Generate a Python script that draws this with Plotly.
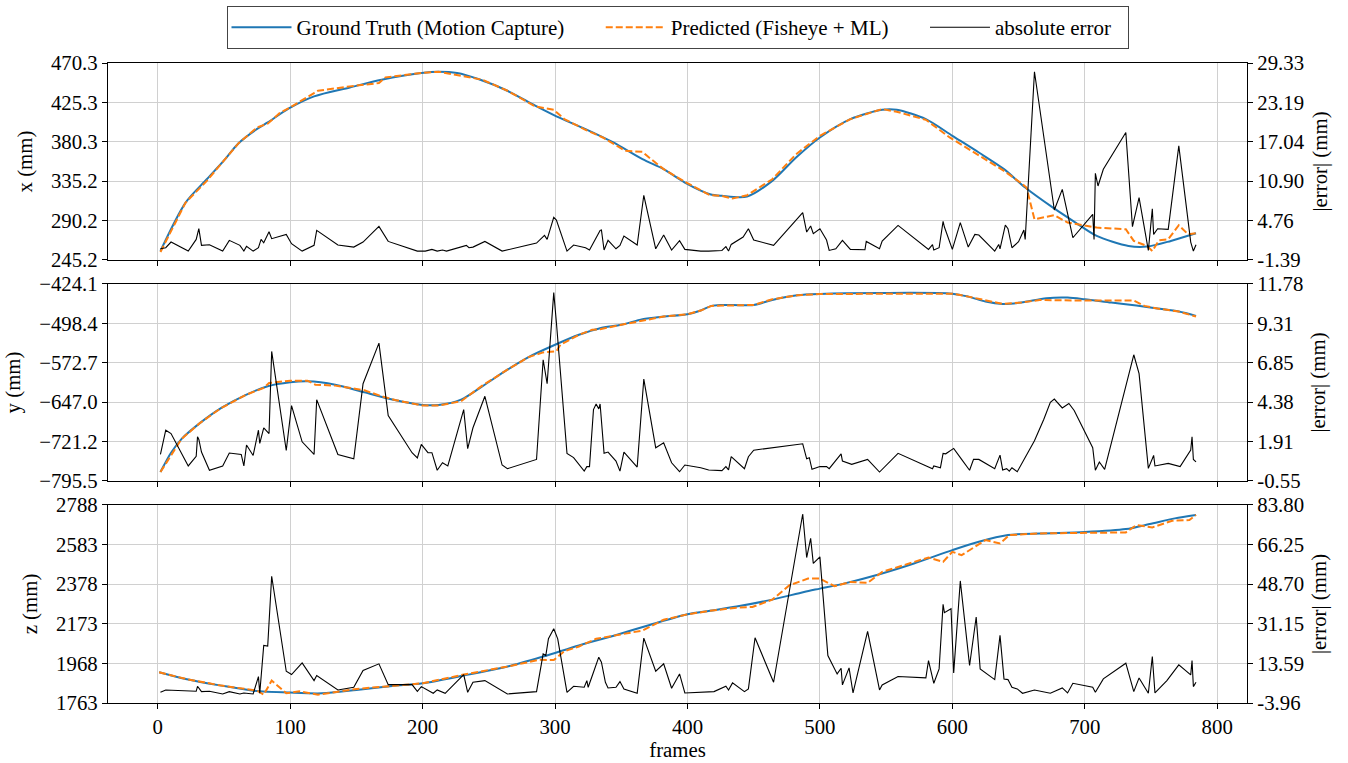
import numpy as np
import plotly.graph_objects as go

# ---------------- data ----------------
# x coordinate
x_gt_frames = [2, 21, 37, 50, 61, 75, 83, 99, 118, 145, 169, 199, 212, 226, 242, 264, 285, 301, 323, 344,
               366, 382, 398, 417, 426, 445, 464, 482, 500, 523, 547, 558, 580, 600, 620, 639, 655, 676, 693, 709,
               733, 747, 765, 784]
x_gt = [255.5, 310.8, 337.5, 359, 378.7, 395, 402.4, 418.4, 432.2, 442.4, 451.2, 458.9, 460.4, 458.9, 452, 438.6,
        421.5, 409.3, 394.8, 379.5, 360.4, 349, 333.7, 320.4, 318.5, 317.7, 335.6, 362.3, 385.2, 406.2, 416.9, 416.9,
        406.2, 387.1, 368, 349, 328, 305, 288, 272.7, 261.2, 260.5, 267, 275.7]
x_pred_frames = [2, 21, 37, 51, 61, 75, 83, 92, 100, 118, 121, 145, 167, 172, 199, 212, 245, 264, 285, 299,
                 307, 323, 336, 353, 366, 371, 382, 398, 417, 426, 434, 445, 464, 482, 500, 523, 547, 558, 580, 598,
                 620, 639, 652, 656, 662, 677, 687, 700, 709, 731, 737, 747, 751, 756, 763, 771, 778, 784]
x_pred = [254.4, 310.8, 335.6, 360.4, 378.7, 396.7, 401, 413, 419.6, 436, 438.6, 443.6, 447.4, 453.9, 458.9, 460.4,
          451.2, 438.6, 420.7, 416.9, 406.2, 394, 385.2, 370, 368.8, 362.3, 349, 334.5, 319.2, 318.5, 315.4, 319.2,
          337.5, 366.1, 387.1, 406.2, 417.7, 414.6, 405.4, 385.2, 365, 347.1, 332.9, 328, 291.8, 296.4, 288, 284.2,
          282.2, 280.3, 267, 261.2, 255.5, 267.7, 268.9, 284.9, 274.6, 275.7]
x_err_frames = [2, 6, 10, 23, 29, 31, 33, 39, 49, 54, 62, 65, 67, 72, 76, 78, 80, 84, 86, 97,
                101, 109, 118, 120, 136, 148, 155, 167, 174, 196, 202, 207, 211, 215, 218, 233, 235, 238, 247, 260,
                286, 292, 294, 299, 301, 309, 314, 323, 326, 332, 334, 335, 337, 340, 346, 349, 352, 362, 367, 376,
                382, 388, 394, 398, 410, 416, 426, 429, 431, 433, 442, 446, 450, 465, 487, 490, 493, 495, 500, 505,
                507, 512, 517, 523, 534, 535, 545, 547, 559, 582, 585, 586, 590, 593, 594, 600, 606, 612, 617, 620,
                632, 635, 636, 640, 642, 645, 650, 654, 655, 662, 677, 683, 691, 706, 707, 708, 710, 714, 731, 736,
                741, 748, 751, 752, 755, 763, 771, 780, 782, 784]
x_err = [0.36, 0.52, 1.41, 0.0, 1.82, 3.49, 0.89, 0.99, 0.0, 1.67, 0.89, 0.0, 0.73, 0.0, 0.52, 1.82, 1.30, 3.02, 1.93, 2.60,
         1.15, 0.0, 0.89, 3.23, 0.94, 0.62, 1.41, 3.85, 1.51, 0.0, 0.0, 0.26, 0.0, 0.16, 0.0, 0.89, 0.52, 0.62, 1.51, 0.0,
         1.25, 2.45, 1.82, 5.26, 4.84, 0.0, 0.94, 0.52, 0.16, 2.45, 3.23, 3.28, 0.16, 1.67, 0.36, 0.89, 2.34, 0.94, 8.70, 0.36,
         2.50, 0.16, 1.61, 0.26, 0.0, 0.0, 0.1, 0.68, 0.0, 1.04, 2.19, 3.49, 1.72, 0.89, 5.99, 2.97, 3.91, 2.71, 3.49, 1.72,
         0.1, 0.36, 1.67, 0.26, 0.21, 1.51, 0.36, 1.56, 4.01, 0.26, 0.99, 0.16, 0.52, 4.63, 3.75, 0.26, 4.43, 0.62, 2.60, 2.50,
         0.0, 1.04, 0.36, 4.06, 3.49, 0.52, 1.46, 3.28, 1.82, 27.96, 6.40, 9.63, 2.08, 5.73, 1.82, 12.13, 10.15, 12.76, 18.48, 3.80,
         8.33, 0.1, 6.61, 2.60, 3.49, 3.38, 16.40, 1.41, 0.0, 0.99]

# y coordinate
y_gt_frames = [2, 10, 18, 32, 48, 67, 83, 100, 113, 134, 156, 177, 200, 212, 229, 245, 264, 280, 300, 318,
               334, 350, 366, 382, 400, 410, 418, 426, 450, 464, 483, 500, 545, 600, 612, 625, 638, 652, 671, 687,
               700, 720, 739, 755, 771, 784]
y_gt = [-778.6, -742.3, -716, -685.9, -657.7, -632.6, -617, -609.5, -607.6, -613.9,
        -628.3, -642, -652.1, -652.1, -642, -617, -585.7, -561.9, -538.7, -519.9,
        -507.4, -501.1, -490.5, -485.5, -481.1, -474.2, -465.4, -463.6, -463.6, -454.2,
        -445.4, -442.9, -441, -442.3, -447.9, -457.3, -461.7, -459.2, -451, -449.8,
        -452.9, -459.2, -464.8, -470.4, -476.1, -484.2]
y_pred_frames = [2, 18, 32, 48, 67, 80, 84, 100, 113, 119, 134, 156, 169, 180, 200, 212, 229, 245, 264, 280,
                 291, 301, 304, 318, 328, 334, 350, 366, 382, 400, 410, 418, 450, 464, 483, 500, 600, 612, 638, 652,
                 666, 700, 737, 745, 755, 771, 784]
y_pred = [-778.6, -716, -685.9, -657.7, -632.6, -620.1, -610.7, -606.4, -606.4, -613.9,
          -615.7, -624.5, -635.8, -643.3, -653.3, -653.3, -645.2, -615.7, -585.7, -561.9,
          -553.1, -551.2, -538.7, -519.9, -510.5, -509.3, -501.1, -493, -485.5, -481.1,
          -474.2, -465.4, -463.6, -452.9, -445.4, -442.9, -442.3, -447.9, -461.7, -459.2,
          -454.2, -455.4, -455.4, -465.4, -470.4, -476.1, -485.5]
y_err_frames = [2, 6, 10, 23, 29, 30, 31, 33, 39, 49, 54, 63, 65, 67, 72, 76, 77, 80, 84, 86,
                97, 101, 109, 118, 120, 136, 148, 155, 167, 174, 192, 196, 199, 204, 207, 211, 215, 219, 231, 234,
                238, 247, 260, 264, 286, 291, 294, 299, 301, 309, 314, 322, 324, 326, 329, 331, 333, 334, 337, 340,
                346, 349, 352, 362, 367, 376, 382, 388, 394, 398, 410, 416, 426, 429, 431, 433, 443, 446, 450, 487,
                490, 492, 494, 500, 505, 507, 516, 517, 524, 536, 545, 559, 585, 586, 591, 593, 595, 601, 607, 613,
                616, 620, 632, 636, 638, 641, 643, 645, 649, 662, 669, 674, 677, 683, 688, 692, 706, 708, 711, 715,
                737, 741, 748, 752, 753, 763, 772, 780, 781, 782, 784]
y_err = [1.11, 2.63, 2.42, 0.39, 0.99, 2.22, 2.05, 1.26, 0.12, 0.39, 1.20, 1.11, 0.39, 1.70, 1.05, 2.63, 1.80, 2.78, 2.42, 7.56,
         1.36, 4.17, 1.90, 1.11, 4.54, 1.11, 0.84, 5.54, 8.08, 3.55, 1.22, 0.89, 1.74, 1.22, 1.22, 0.12, 0.59, 0.39, 3.92, 1.47,
         2.78, 4.75, 0.45, 0.22, 0.80, 7.04, 5.54, 11.24, 9.37, 1.18, 0.91, 0.07, 0.35, 0.35, 3.92, 4.27, 3.96, 4.27, 1.18, 1.26,
         0.70, 0.07, 1.26, 0.32, 5.83, 1.53, 1.84, 0.59, 0.03, 0.45, 0.28, 0.14, 0.10, 0.35, 0.14, 0.97, 0.22, 0.97, 1.38, 1.78,
         0.84, 0.91, 0.18, 0.35, 0.35, 0.22, 1.15, 0.70, 0.49, 0.80, 0.01, 1.18, 0.22, 0.39, 0.28, 1.18, 1.15, 1.49, 0.80, 0.12,
         0.80, 0.80, 0.22, 1.07, 0.14, 0.22, 0.07, 0.28, 0.03, 1.97, 3.30, 4.38, 4.58, 4.02, 4.30, 3.86, 1.53, 0.12, 0.64, 0.18,
         7.35, 6.17, 0.24, 1.05, 0.39, 0.55, 0.35, 1.38, 2.22, 0.80, 0.64]

# z coordinate
z_gt_frames = [1, 21, 48, 72, 100, 124, 150, 177, 200, 231, 264, 291, 318, 345, 372, 400, 417, 437, 464, 488,
               500, 518, 545, 571, 600, 620, 642, 666, 700, 731, 749, 768, 784]
z_gt = [1922.3, 1887.7, 1853, 1827, 1816.7, 1813.2, 1830.5, 1851.3, 1865.2, 1905,
        1951.7, 2003.7, 2060.8, 2112.7, 2168.1, 2222, 2240, 2262, 2298, 2337.8,
        2355.1, 2381, 2429.6, 2485, 2554.3, 2597.5, 2632.2, 2640.8, 2647.8, 2663.3,
        2689.3, 2718.7, 2736]
z_pred_frames = [1, 21, 48, 70, 75, 80, 86, 97, 107, 121, 150, 177, 200, 231, 264, 288, 299, 307, 318, 331,
                 345, 366, 377, 382, 400, 417, 437, 449, 464, 477, 491, 500, 511, 523, 536, 547, 582, 593, 600, 607,
                 617, 625, 636, 643, 666, 700, 731, 739, 751, 766, 779, 784]
z_pred = [1922.3, 1887.7, 1853, 1832.3, 1827, 1806.3, 1879, 1813.2, 1823.6, 1806.3,
          1835.7, 1851.3, 1865.2, 1910.2, 1951.7, 1986.4, 1985, 2031.4, 2055.6, 2095.4,
          2112.7, 2138, 2176.8, 2194, 2222, 2240, 2256.5, 2260, 2298, 2372.5,
          2407, 2407, 2367.3, 2389.8, 2384.6, 2441.7, 2516.2, 2493.7, 2545.6, 2528.3,
          2571.6, 2606, 2589, 2632.2, 2640.8, 2644.3, 2646, 2684, 2672, 2706.6,
          2710, 2736]
z_err_frames = [2, 6, 29, 30, 33, 39, 49, 54, 62, 65, 72, 76, 77, 80, 83, 86, 97, 101, 109, 118,
                120, 136, 148, 155, 167, 174, 192, 196, 199, 208, 211, 217, 231, 234, 238, 247, 264, 286, 291, 293,
                295, 299, 302, 309, 314, 322, 324, 325, 329, 333, 335, 338, 340, 346, 349, 352, 362, 367, 376, 382,
                388, 394, 398, 410, 420, 429, 431, 434, 443, 446, 451, 465, 487, 490, 493, 495, 500, 506, 513, 516,
                517, 522, 525, 536, 545, 547, 559, 580, 582, 586, 590, 593, 594, 599, 601, 606, 613, 618, 621, 632,
                636, 639, 642, 645, 649, 653, 662, 674, 677, 683, 687, 691, 706, 708, 714, 731, 737, 741, 748, 751,
                753, 762, 771, 780, 781, 782, 784]
z_err = [0.79, 1.83, 1.23, 3.45, 1.08, 1.23, 0.04, 1.08, 0.04, 0.49, 0.04, 7.75, 0.34, 21.54, 21.24, 52.23, 10.12, 8.64, 13.83, 5.97,
         8.20, 1.82, 3.01, 10.42, 13.39, 4.19, 4.19, 1.23, 3.31, 0.34, 1.82, 0.34, 8.64, 0.79, 5.23, 5.97, 0.04, 1.08, 17.83, 17.09,
         24.50, 28.95, 24.50, 0.79, 3.45, 3.01, 5.97, 3.01, 9.68, 16.35, 14.13, 5.23, 2.71, 3.01, 5.53, 2.27, 0.34, 24.80, 10.12, 13.39,
         2.56, 8.94, 0.49, 0.79, 1.08, 3.45, 1.82, 4.94, 1.08, 2.27, 24.95, 5.23, 79.8, 60.5, 69.0, 57.9, 60.8, 17.09, 8.94, 11.46,
         4.05, 11.6, 0.49, 27.76, 1.82, 4.05, 7.75, 7.16, 14.87, 4.79, 11.16, 39.77, 36.07, 37.84, 9.38, 50.14, 12.64, 34.14, 11.16, 6.42,
         26.0, 6.71, 6.42, 3.01, 2.27, 0.34, 1.82, 0.34, 1.23, 2.71, 0.49, 4.79, 3.01, 0.79, 6.71, 13.68, 1.08, 7.16, 0.34, 16.65,
         0.49, 5.97, 12.94, 8.49, 14.87, 3.31, 5.23]

# axis ranges and tick labels
frame_ticks = [0, 100, 200, 300, 400, 500, 600, 700, 800]
x_left_ticks = ["245.2", "290.2", "335.2", "380.3", "425.3", "470.3"]
x_right_ticks = ["-1.39", "4.76", "10.90", "17.04", "23.19", "29.33"]
y_left_ticks = ["\u2212795.5", "\u2212721.2", "\u2212647.0", "\u2212572.7", "\u2212498.4", "\u2212424.1"]
y_right_ticks = ["-0.55", "1.91", "4.38", "6.85", "9.31", "11.78"]
z_left_ticks = ["1763", "1968", "2173", "2378", "2583", "2788"]
z_right_ticks = ["-3.96", "13.59", "31.15", "48.70", "66.25", "83.80"]
x_left_range = [245.2, 470.3]
x_right_range = [-1.39, 29.33]
y_left_range = [-795.5, -424.1]
y_right_range = [-0.55, 11.78]
z_left_range = [1763, 2788]
z_right_range = [-3.96, 83.80]
frame_range = [-37.6, 822.5]

legend_names = ["Ground Truth (Motion Capture)", "Predicted (Fisheye + ML)", "absolute error"]

# ---------------- figure ----------------
FONT = "Liberation Serif, Times New Roman, serif"
BLUE = "#1f77b4"
ORANGE = "#ff7f0e"
GRID = "#d0d0d0"
FS = 20.8
PAD = "\u00a0" * 6
PAD_END = "\u00a0" * 2

panels = [
    dict(gf=x_gt_frames, g=x_gt, pf=x_pred_frames, p=x_pred, ef=x_err_frames, e=x_err,
         lt=x_left_ticks, rt=x_right_ticks, lr=x_left_range, rr=x_right_range, title="x (mm)"),
    dict(gf=y_gt_frames, g=y_gt, pf=y_pred_frames, p=y_pred, ef=y_err_frames, e=y_err,
         lt=y_left_ticks, rt=y_right_ticks, lr=y_left_range, rr=y_right_range, title="y (mm)"),
    dict(gf=z_gt_frames, g=z_gt, pf=z_pred_frames, p=z_pred, ef=z_err_frames, e=z_err,
         lt=z_left_ticks, rt=z_right_ticks, lr=z_left_range, rr=z_right_range, title="z (mm)"),
]
domains = [[0.6922, 1.0], [0.3469, 0.6547], [0.0, 0.3094]]
tfont = dict(family=FONT, size=FS, color="black")

fig = go.Figure()
layout = {}
for i, pn in enumerate(panels):
    assert len(pn["gf"]) == len(pn["g"]) and len(pn["pf"]) == len(pn["p"]) and len(pn["ef"]) == len(pn["e"])
    xa = "x" if i == 0 else f"x{i+1}"
    yl = "y" if i == 0 else f"y{2*i+1}"
    yr = f"y{2*i+2}"
    first = (i == 0)
    fig.add_trace(go.Scatter(x=pn["gf"], y=pn["g"], xaxis=xa, yaxis=yl, mode="lines",
                             line=dict(color=BLUE, width=2, shape="spline", smoothing=0.8),
                             name=legend_names[0] + PAD, legendgroup="gt", showlegend=first))
    fig.add_trace(go.Scatter(x=pn["pf"], y=pn["p"], xaxis=xa, yaxis=yl, mode="lines",
                             line=dict(color=ORANGE, width=2, dash="7px,3px"),
                             name=legend_names[1] + PAD, legendgroup="pr", showlegend=first))
    fig.add_trace(go.Scatter(x=pn["ef"], y=pn["e"], xaxis=xa, yaxis=yr, mode="lines",
                             line=dict(color="black", width=1.1),
                             name=legend_names[2] + PAD_END, legendgroup="er", showlegend=first))

    xkey = "xaxis" if i == 0 else f"xaxis{i+1}"
    ylkey = "yaxis" if i == 0 else f"yaxis{2*i+1}"
    yrkey = f"yaxis{2*i+2}"
    xd = dict(domain=[0, 1], anchor=yl, range=frame_range, tickvals=frame_ticks,
              showticklabels=(i == 2), ticks="outside", ticklen=5, tickcolor="black",
              showgrid=True, gridcolor=GRID, gridwidth=1.2, zeroline=False,
              showline=True, mirror=True, linecolor="black", linewidth=1.3, tickfont=tfont)
    if i == 2:
        xd["title"] = dict(text="frames", font=tfont, standoff=4)
    layout[xkey] = xd
    lvals = list(np.linspace(pn["lr"][0], pn["lr"][1], len(pn["lt"])))
    rvals = list(np.linspace(pn["rr"][0], pn["rr"][1], len(pn["rt"])))
    layout[ylkey] = dict(domain=domains[i], anchor=xa, range=pn["lr"], tickvals=lvals, ticktext=pn["lt"],
                         ticks="outside", ticklen=5, tickcolor="black",
                         showgrid=True, gridcolor=GRID, gridwidth=1.2, zeroline=False,
                         showline=True, mirror=True, linecolor="black", linewidth=1.3, tickfont=tfont,
                         title=dict(text=pn["title"], font=tfont, standoff=12))
    layout[yrkey] = dict(domain=domains[i], anchor=xa, overlaying=yl, side="right", range=pn["rr"],
                         tickvals=rvals, ticktext=pn["rt"], ticks="outside", ticklen=5, tickcolor="black",
                         showgrid=False, zeroline=False, showline=True, linecolor="black", linewidth=1.3,
                         tickfont=tfont, title=dict(text="|error| (mm)", font=tfont, standoff=8))

fig.update_layout(**layout)
fig.update_layout(
    width=1348, height=763,
    margin=dict(l=108, r=101, t=63, b=60, autoexpand=False),
    plot_bgcolor="white", paper_bgcolor="white",
    font=dict(family=FONT, size=FS, color="black"),
    legend=dict(orientation="h", x=0.5, xanchor="center", y=1.089, yanchor="top",
                bordercolor="#444444", borderwidth=1, bgcolor="white",
                font=dict(family=FONT, size=21, color="black"),
                itemwidth=60, tracegroupgap=0),
)

fig.write_html("out.html", config={"displayModeBar": False},
               post_script="document.body.style.margin='0';document.body.style.overflow='hidden';")
